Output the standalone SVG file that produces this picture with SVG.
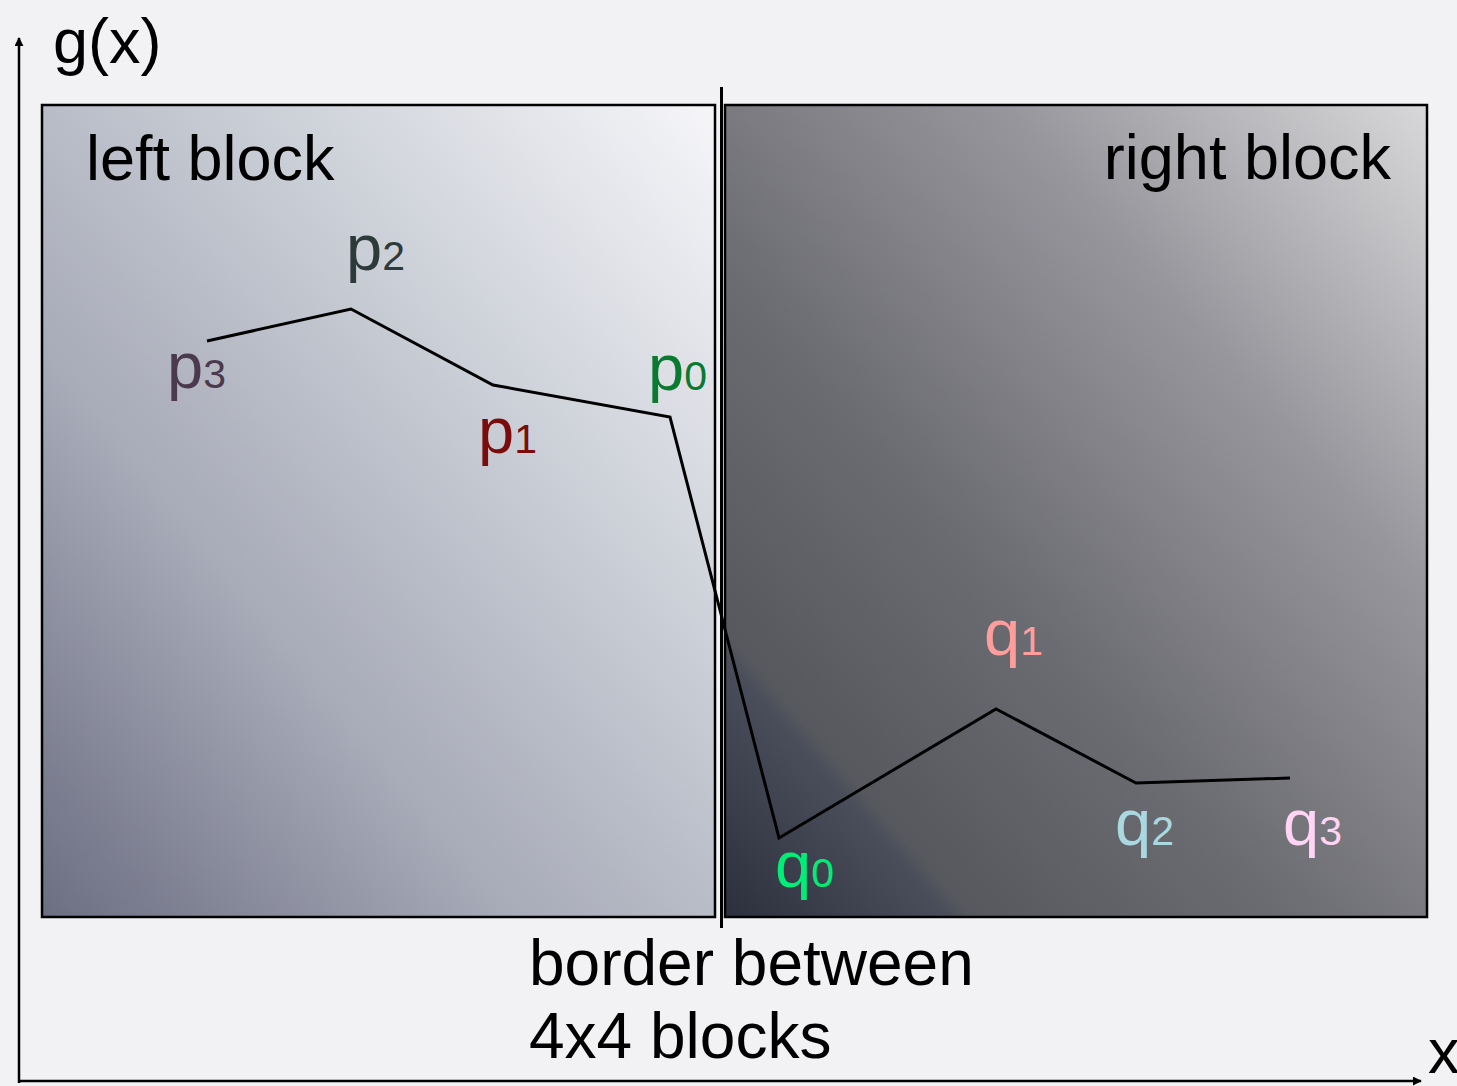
<svg xmlns="http://www.w3.org/2000/svg" width="1457" height="1086" viewBox="0 0 1457 1086">
<style>
text{font-family:"Liberation Sans",Arial,sans-serif;}
.big{font-size:63px;fill:#000;}
.pt{font-size:65px;}
.sub{font-size:41px;}
.axis{stroke:#000;stroke-width:2.5;fill:none;}
.box{stroke:#000;stroke-width:2.5;}
</style>
<defs>
<linearGradient id="gl" x1="0" y1="1" x2="1" y2="0">
<stop offset="0" stop-color="#6c6e82"/>
<stop offset="0.35" stop-color="#a8abb8"/>
<stop offset="0.65" stop-color="#caced6"/>
<stop offset="1" stop-color="#f6f6f9"/>
</linearGradient>
<linearGradient id="gr" x1="0" y1="1" x2="1" y2="0">
<stop offset="0" stop-color="#2c2f3c"/>
<stop offset="0.16" stop-color="#4a4e5a"/>
<stop offset="0.175" stop-color="#56585e"/>
<stop offset="0.4" stop-color="#6b6c71"/>
<stop offset="0.7" stop-color="#97969c"/>
<stop offset="1" stop-color="#d8d8da"/>
</linearGradient>
<marker id="ah2" viewBox="0 0 10 10" refX="9" refY="5" markerWidth="9" markerHeight="9" orient="auto" markerUnits="userSpaceOnUse">
<path d="M0,0 L10,5 L0,10 Z" fill="#000"/>
</marker>
</defs>
<rect x="0" y="0" width="1457" height="1086" fill="#f2f2f4"/>

<g id="axes">
<line class="axis" x1="19" y1="1083" x2="19" y2="38" marker-end="url(#ah2)"/>
<line class="axis" x1="18" y1="1081" x2="1421" y2="1081" marker-end="url(#ah2)"/>
<text class="big" x="53" y="63">g(x)</text>
<text class="big" x="1428" y="1073">x</text>
</g>

<g id="left-block">
<rect class="box" x="42" y="105" width="673" height="812" fill="url(#gl)"/>
<text class="big" x="86" y="180">left block</text>
</g>

<g id="right-block">
<rect class="box" x="725" y="105" width="702" height="812" fill="url(#gr)"/>
<text class="big" x="1391" y="179" text-anchor="end">right block</text>
</g>

<g id="border">
<line x1="721.5" y1="87" x2="721.5" y2="928" stroke="#000" stroke-width="3"/>
<text class="big" x="529" y="985" style="font-size:64px">border between</text>
<text class="big" x="529" y="1058" style="font-size:64px">4x4 blocks</text>
</g>

<g id="connectors">
<polyline points="207,341 351,309 493,385 670,417 779,838 996,709 1136,783 1290,778" fill="none" stroke="#000" stroke-width="3" stroke-linejoin="miter"/>
</g>

<g id="p3"><text class="pt" x="167" y="388" fill="#4b3a4e">p<tspan class="sub">3</tspan></text></g>
<g id="p2"><text class="pt" x="346" y="270" fill="#2d3a3a">p<tspan class="sub">2</tspan></text></g>
<g id="p1"><text class="pt" x="478" y="453" fill="#7a0c0c">p<tspan class="sub">1</tspan></text></g>
<g id="p0"><text class="pt" x="648" y="390" fill="#0a7a30">p<tspan class="sub">0</tspan></text></g>
<g id="q0"><text class="pt" x="775" y="887" fill="#00ee78">q<tspan class="sub">0</tspan></text></g>
<g id="q1"><text class="pt" x="984" y="655" fill="#ff9c9c">q<tspan class="sub">1</tspan></text></g>
<g id="q2"><text class="pt" x="1115" y="845" fill="#aad8e0">q<tspan class="sub">2</tspan></text></g>
<g id="q3"><text class="pt" x="1283" y="845" fill="#ffd4f4">q<tspan class="sub">3</tspan></text></g>
</svg>
